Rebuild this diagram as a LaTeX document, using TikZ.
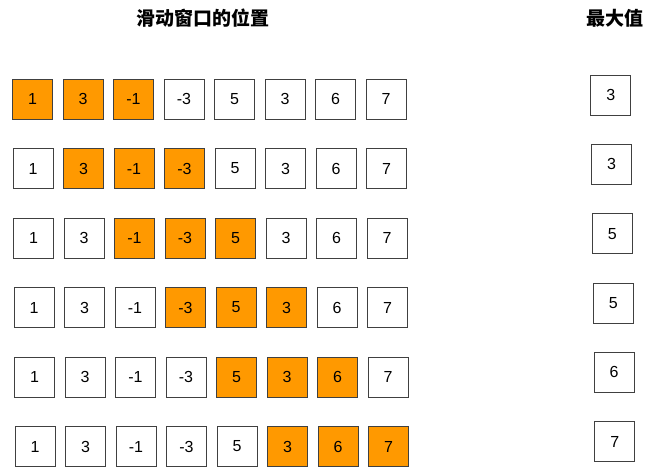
\documentclass[tikz,border=0pt]{standalone}
\usepackage{fontspec}
\setmainfont{Liberation Sans}
\newfontfamily\cjkfont{Noto Sans CJK SC}
\usepackage{tikz}
\usetikzlibrary{positioning}

\definecolor{winorange}{HTML}{FF9900}

\begin{document}
\begin{tikzpicture}[
  x=1pt, y=-1pt,
  cell/.style={
    draw=black!75, thick, fill=white,
    minimum width=40pt, minimum height=40pt, inner sep=0pt,
    font=\fontsize{16}{19}\selectfont
  },
  win/.style={cell, fill=winorange},
  head/.style={font=\cjkfont\bfseries\fontsize{19}{23}\selectfont}
]
\useasboundingbox (0,0) rectangle (648,473);

% Headings
\node[head] (title) at (203,18) {滑动窗口的位置};
\node[head] (maxtitle) at (615,18) {最大值};

% Rows: array with the window in orange, maximum on the right
\foreach \m [count=\r] in {3,3,5,5,6,7} {
  \foreach \v [count=\c] in {1,3,-1,-3,5,3,6,7} {
    \pgfmathtruncatemacro\inwin{and(\c>=\r,\c<=\r+2)}
    \ifnum\inwin=1 \def\st{win}\else\def\st{cell}\fi
    \node[\st] (c\r-\c) at ({32+0.5*\r+(\c-1)*50.5},{99+(\r-1)*69.5}) {\v};
  }
  \node[cell] (m\r) at ({610+0.8*\r},{95+(\r-1)*69.3}) {\m};
}

\end{tikzpicture}
\end{document}
